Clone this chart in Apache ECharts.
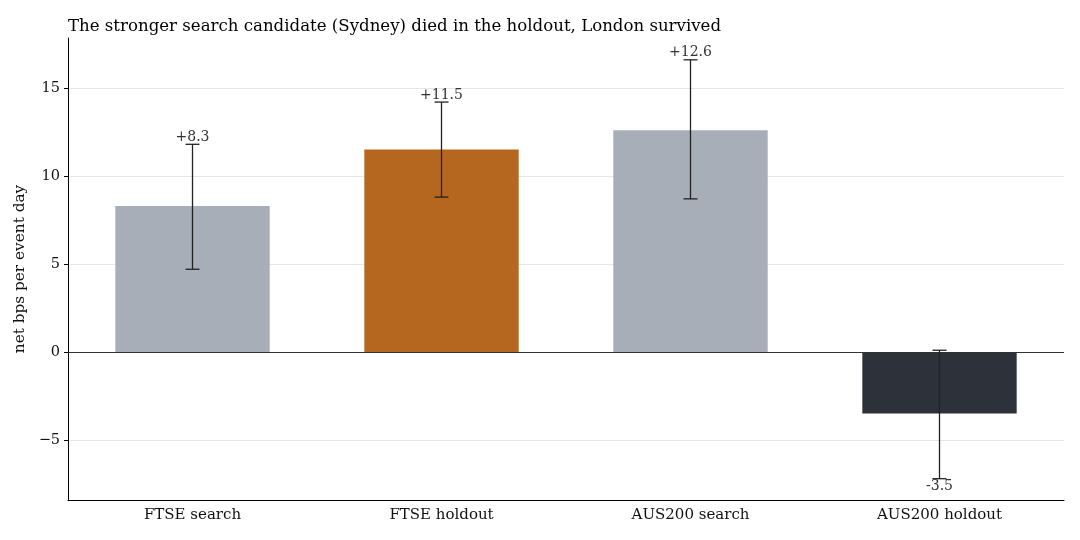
<!DOCTYPE html>
<html>
<head>
<meta charset="utf-8">
<script src="https://cdn.jsdelivr.net/npm/echarts@6/dist/echarts.min.js"></script>
<style>
  html, body { margin: 0; padding: 0; background: #fff; }
  #main { width: 1080px; height: 540px; }
</style>
</head>
<body>
<div id="main"></div>
<script>
// 数据
const categories = ['FTSE search', 'FTSE holdout', 'AUS200 search', 'AUS200 holdout'];
const netBps = [8.3, 11.5, 12.6, -3.5];
const ciLow = [4.7, 8.8, 8.7, -7.2];
const ciHigh = [11.8, 14.2, 16.6, 0.1];
const yTicks = [-5, 0, 5, 10, 15];

const barColors = ['#a8aeb7', '#b5671f', '#a8aeb7', '#2d3139'];
const FONT = 'DejaVu Serif';

const chart = echarts.init(document.getElementById('main'), null, { renderer: 'canvas' });

function fmtLabel(v) {
  return v > 0 ? '+' + v.toFixed(1) : v.toFixed(1);
}

// 误差线 + 数值标签
function renderErr(params, api) {
  const i = api.value(0);
  const lo = api.coord([i, api.value(1)]);
  const hi = api.coord([i, api.value(2)]);
  const v = api.value(3);
  const x = Math.round(lo[0]) - 0.5;
  const cap = 7;
  const st = { stroke: '#222', lineWidth: 1.3 };
  const kids = [
    { type: 'line', shape: { x1: x, y1: lo[1], x2: x, y2: hi[1] }, style: st },
    { type: 'line', shape: { x1: x - cap, y1: lo[1], x2: x + cap, y2: lo[1] }, style: st },
    { type: 'line', shape: { x1: x - cap, y1: hi[1], x2: x + cap, y2: hi[1] }, style: st }
  ];
  kids.push({
    type: 'text',
    style: {
      text: fmtLabel(v),
      x: x,
      y: v >= 0 ? hi[1] : lo[1] + 1,
      align: 'center',
      verticalAlign: v >= 0 ? 'bottom' : 'top',
      font: '14px "' + FONT + '"',
      fill: '#333'
    }
  });
  return { type: 'group', children: kids };
}

const option = {
  backgroundColor: '#fff',
  animation: false,
  textStyle: { fontFamily: FONT },
  title: {
    text: 'The stronger search candidate (Sydney) died in the holdout, London survived',
    left: 63,
    top: 13,
    textStyle: { fontFamily: FONT, fontSize: 16.6, fontWeight: 'normal', color: '#000' }
  },
  grid: { left: 68, right: 16, top: 38, bottom: 40 },
  xAxis: {
    type: 'category',
    data: categories,
    axisLine: { onZero: false, lineStyle: { color: '#000', width: 1 } },
    axisTick: { alignWithLabel: true, length: 4, lineStyle: { color: '#000' } },
    axisLabel: { fontFamily: FONT, fontSize: 15, color: '#111', margin: 8 },
    splitLine: { show: false }
  },
  yAxis: {
    type: 'value',
    min: -8.41,
    max: 17.84,
    name: 'net bps per event day',
    nameLocation: 'middle',
    nameGap: 40,
    nameTextStyle: { fontFamily: FONT, fontSize: 15.3, color: '#111' },
    axisLine: { show: true, lineStyle: { color: '#000', width: 1 } },
    axisTick: { show: true, length: 4, customValues: yTicks, lineStyle: { color: '#000' } },
    axisLabel: {
      fontFamily: FONT, fontSize: 14.5, color: '#111', margin: 8,
      customValues: yTicks,
      formatter: v => String(v).replace('-', '\u2212')
    },
    splitLine: { show: false }
  },
  series: [
    {
      // 网格线
      type: 'line',
      data: [],
      silent: true,
      z: 0,
      markLine: {
        silent: true,
        z: 0,
        symbol: 'none',
        label: { show: false },
        lineStyle: { color: '#e6e6e6', width: 1, type: 'solid' },
        data: yTicks.filter(t => t !== 0).map(t => ({ yAxis: t }))
      }
    },
    {
      type: 'bar',
      data: netBps.map((v, i) => ({ value: v, itemStyle: { color: barColors[i] } })),
      barWidth: '62%',
      z: 2,
      markLine: {
        silent: true,
        z: 3,
        symbol: 'none',
        label: { show: false },
        lineStyle: { color: '#333', width: 1, type: 'solid' },
        data: [{ yAxis: 0 }]
      }
    },
    {
      type: 'custom',
      renderItem: renderErr,
      data: categories.map((c, i) => [i, ciLow[i], ciHigh[i], netBps[i]]),
      encode: { x: 0, y: [1, 2] },
      z: 5
    }
  ]
};

chart.setOption(option);
</script>
</body>
</html>
